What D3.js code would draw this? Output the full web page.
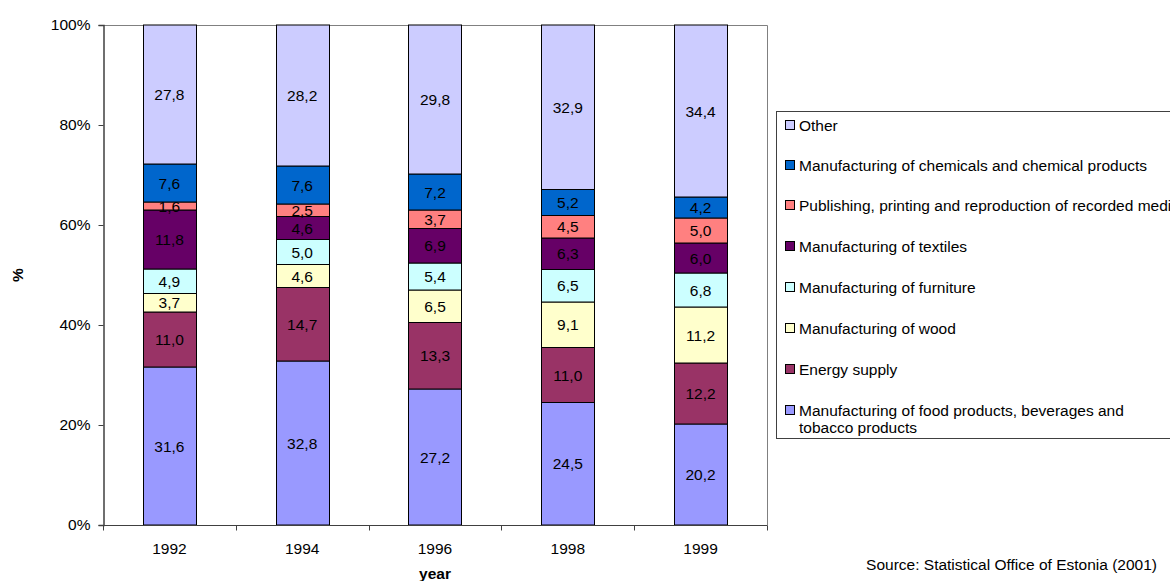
<!DOCTYPE html>
<html>
<head>
<meta charset="utf-8">
<script src="https://cdn.jsdelivr.net/npm/d3@7"></script>
<style>
  html, body { margin: 0; padding: 0; background: #fff; }
  svg text { font-family: "Liberation Sans", Arial, sans-serif; fill: #000; }
</style>
</head>
<body>
<svg id="chart" width="1170" height="581"></svg>
<script>
// Industry structure by year, percent of total (bottom segment first)
const years = ["1992", "1994", "1996", "1998", "1999"];
const seriesNames = [
  "Manufacturing of food products, beverages and tobacco products",
  "Energy supply",
  "Manufacturing of wood",
  "Manufacturing of furniture",
  "Manufacturing of textiles",
  "Publishing, printing and reproduction of recorded media",
  "Manufacturing of chemicals and chemical products",
  "Other"
];
const food       = [31.6, 32.8, 27.2, 24.5, 20.2];
const energy     = [11.0, 14.7, 13.3, 11.0, 12.2];
const wood       = [3.7, 4.6, 6.5, 9.1, 11.2];
const furniture  = [4.9, 5.0, 5.4, 6.5, 6.8];
const textiles   = [11.8, 4.6, 6.9, 6.3, 6.0];
const publishing = [1.6, 2.5, 3.7, 4.5, 5.0];
const chemicals  = [7.6, 7.6, 7.2, 5.2, 4.2];
const other      = [27.8, 28.2, 29.8, 32.9, 34.4];
const yTicks = [0, 20, 40, 60, 80, 100];

const seriesValues = [food, energy, wood, furniture, textiles, publishing, chemicals, other];
const colors = ["#9999FF", "#993366", "#FFFFCC", "#CCFFFF", "#660066", "#FF8080", "#0066CC", "#CCCCFF"];
const FS = 15.5;

const rows = years.map((yv, i) => {
  const r = { year: yv };
  seriesNames.forEach((n, k) => { r[n] = seriesValues[k][i]; });
  return r;
});
const stacked = d3.stack().keys(seriesNames).offset(d3.stackOffsetExpand)(rows);

const svg = d3.select("#chart");
const plotL = 103, plotR = 767, plotT = 25, plotB = 525;

const x = d3.scaleBand().domain(years).range([plotL, plotR]).paddingInner(0.6).paddingOuter(0.3);
const xb = d3.scaleBand().domain(years).range([plotL, plotR]);
const y = d3.scaleLinear().domain([0, 1]).range([plotB, plotT]);

// plot frame (top and right)
svg.append("path")
  .attr("d", `M${plotL},${plotT + 0.5}H${plotR + 0.5}V${plotB}`)
  .attr("fill", "none").attr("stroke", "#808080").attr("stroke-width", 1);

// stacked bars
const layer = svg.append("g").selectAll("g").data(stacked).join("g")
  .attr("fill", (d, i) => colors[i]);
layer.selectAll("rect").data(d => d).join("rect")
  .attr("x", d => Math.round(x(d.data.year)) + 0.5)
  .attr("width", Math.round(x.bandwidth()))
  .attr("y", d => y(d[1]))
  .attr("height", d => y(d[0]) - y(d[1]))
  .attr("stroke", "#000").attr("stroke-width", 1);

// value labels
const labels = svg.append("g").attr("font-size", FS).attr("text-anchor", "middle");
stacked.forEach((s, k) => {
  s.forEach((d, i) => {
    labels.append("text")
      .attr("x", x(d.data.year) + x.bandwidth() / 2)
      .attr("y", (y(d[0]) + y(d[1])) / 2)
      .attr("dy", "0.36em")
      .text(d3.format(".1f")(seriesValues[k][i]).replace(".", ","));
  });
});

// y axis
const yAxis = svg.append("g").attr("transform", `translate(${plotL + 0.5},0)`)
  .call(d3.axisLeft(d3.scaleLinear().domain([0, 100]).range([plotB, plotT]))
    .tickValues(yTicks).tickSize(5).tickPadding(8).tickFormat(d => d + "%"));
yAxis.select(".domain").attr("stroke", "#404040").attr("stroke-width", 1.5);
yAxis.selectAll(".tick line").attr("stroke", "#404040");
yAxis.selectAll("text").attr("font-size", FS).style("font-family", "Liberation Sans, Arial, sans-serif");

// x axis with ticks at band boundaries
const xAxis = svg.append("g").attr("transform", `translate(0,${plotB + 0.5})`);
xAxis.append("line").attr("x1", plotL).attr("x2", plotR + 0.5)
  .attr("stroke", "#404040").attr("stroke-width", 1);
const bounds = years.map(yv => xb(yv)).concat([plotR]);
xAxis.selectAll(".xt").data(bounds).join("line")
  .attr("x1", d => Math.round(d) + 0.5).attr("x2", d => Math.round(d) + 0.5)
  .attr("y1", 0).attr("y2", 5).attr("stroke", "#404040");
xAxis.selectAll(".xl").data(years).join("text")
  .attr("x", d => xb(d) + xb.bandwidth() / 2)
  .attr("y", 28).attr("text-anchor", "middle").attr("font-size", FS)
  .text(d => d);

// axis titles
svg.append("text").attr("transform", "translate(23,275) rotate(-90)")
  .attr("text-anchor", "middle").attr("font-size", FS).attr("font-weight", "bold").text("%");
svg.append("text").attr("x", 435).attr("y", 579)
  .attr("text-anchor", "middle").attr("font-size", FS).attr("font-weight", "bold").text("year");

// legend
const lg = svg.append("g");
lg.append("rect").attr("x", 776.5).attr("y", 111.5).attr("width", 420).attr("height", 327)
  .attr("fill", "#fff").attr("stroke", "#404040").attr("stroke-width", 1);
const legendOrder = seriesNames.map((n, i) => i).reverse();
const legendY = [125, 165, 205, 246, 287, 328, 369, 410];
legendOrder.forEach((k, j) => {
  const cy = legendY[j];
  lg.append("rect").attr("x", 785.5).attr("y", cy - 4.5).attr("width", 9).attr("height", 9)
    .attr("fill", colors[k]).attr("stroke", "#000").attr("stroke-width", 1);
  const t = lg.append("text").attr("x", 799).attr("y", cy).attr("dy", "0.36em").attr("font-size", FS);
  if (k === 0) {
    t.append("tspan").attr("x", 799).text("Manufacturing of food products, beverages and");
    t.append("tspan").attr("x", 799).attr("dy", "1.12em").text("tobacco products");
  } else {
    t.text(seriesNames[k]);
  }
});

// source note
svg.append("text").attr("x", 1157).attr("y", 570).attr("text-anchor", "end")
  .attr("font-size", FS).text("Source: Statistical Office of Estonia (2001)");
</script>
</body>
</html>
